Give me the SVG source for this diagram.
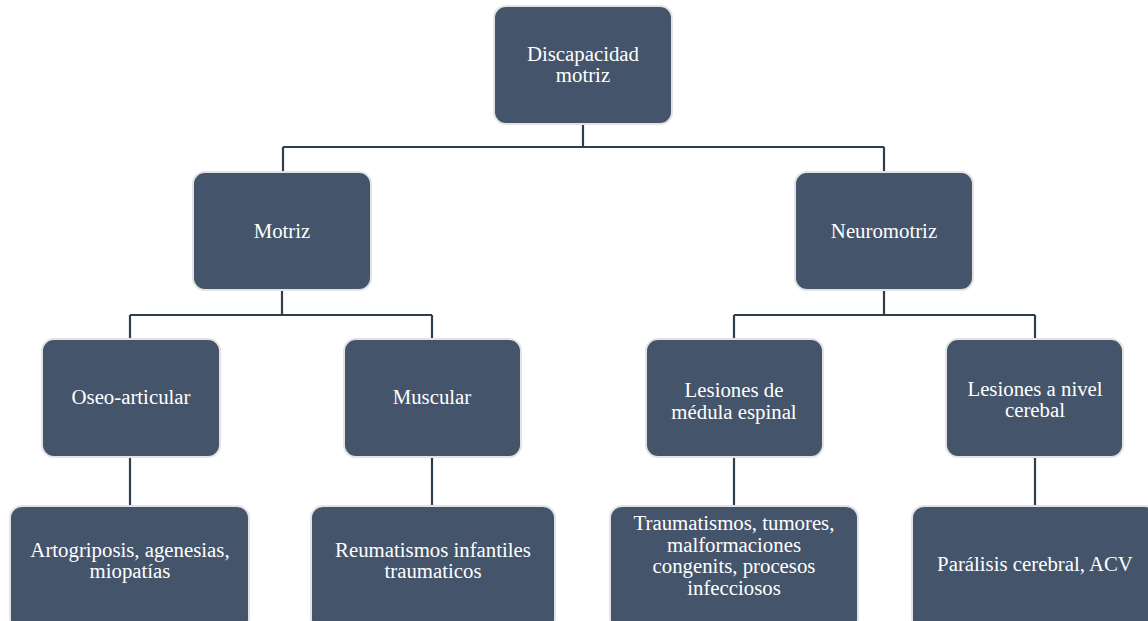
<svg xmlns="http://www.w3.org/2000/svg" width="1148" height="621" viewBox="0 0 1148 621">
<style>
.box{fill:#44546A;stroke:#E3E3E3;stroke-width:2}
.t{font-family:'Liberation Serif','DejaVu Serif',serif;font-size:20.8px;fill:#FFFFFF;text-anchor:middle}
.c{fill:none;stroke:#2F3D4F;stroke-width:2.2}
</style>
<rect width="1148" height="621" fill="#FFFFFF"/>
<g id="connectors">
<path class="c" d="M583 124V147M283 147H884M283 147V172M884 147V172"/>
<path class="c" d="M282 290V315M130 315H432M130 315V339M432 315V339"/>
<path class="c" d="M884 290V315M734 315H1035M734 315V339M1035 315V339"/>
<path class="c" d="M130 457V506M432 457V506M734 457V506M1035 457V506"/>
</g>
<g id="n-discapacidad"><rect class="box" x="494" y="6" width="178" height="118" rx="12"/><text class="t" x="583" y="61">Discapacidad</text><text class="t" x="583" y="82">motriz</text></g>
<g id="n-motriz"><rect class="box" x="193" y="172" width="178" height="118" rx="12"/><text class="t" x="282" y="238">Motriz</text></g>
<g id="n-neuromotriz"><rect class="box" x="795" y="172" width="178" height="118" rx="12"/><text class="t" x="884" y="238">Neuromotriz</text></g>
<g id="n-oseo"><rect class="box" x="42" y="339" width="178" height="118" rx="12"/><text class="t" x="131" y="404">Oseo-articular</text></g>
<g id="n-muscular"><rect class="box" x="344" y="339" width="177" height="118" rx="12"/><text class="t" x="432" y="404">Muscular</text></g>
<g id="n-medula"><rect class="box" x="646" y="339" width="177" height="118" rx="12"/><text class="t" x="734" y="397">Lesiones de</text><text class="t" x="734" y="419">médula espinal</text></g>
<g id="n-cerebral"><rect class="box" x="946" y="339" width="177" height="118" rx="12"/><text class="t" x="1035" y="396">Lesiones a nivel</text><text class="t" x="1035" y="417">cerebal</text></g>
<g id="n-artogriposis"><rect class="box" x="10" y="506" width="239" height="125" rx="12"/><text class="t" x="130" y="557">Artogriposis, agenesias,</text><text class="t" x="130" y="578">miopatías</text></g>
<g id="n-reumatismos"><rect class="box" x="311" y="506" width="244" height="125" rx="12"/><text class="t" x="433" y="557">Reumatismos infantiles</text><text class="t" x="433" y="578">traumaticos</text></g>
<g id="n-traumatismos"><rect class="box" x="610" y="506" width="248" height="125" rx="12"/><text class="t" x="734" y="530">Traumatismos, tumores,</text><text class="t" x="734" y="552">malformaciones</text><text class="t" x="734" y="573">congenits, procesos</text><text class="t" x="734" y="595">infecciosos</text></g>
<g id="n-paralisis"><rect class="box" x="912" y="506" width="245" height="125" rx="12"/><text class="t" x="1035" y="571">Parálisis cerebral, ACV</text></g>
</svg>
